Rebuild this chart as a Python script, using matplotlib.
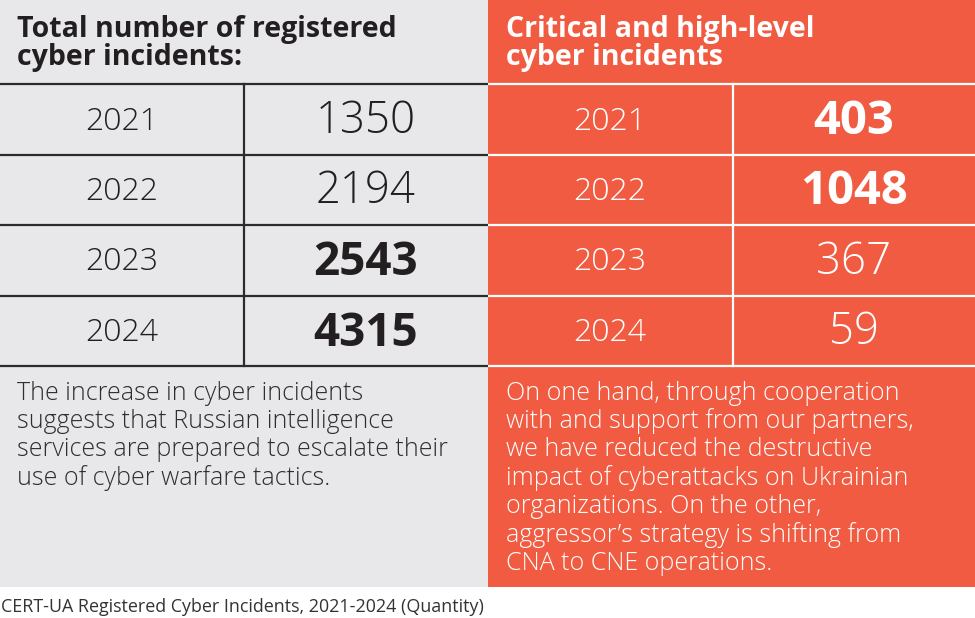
import matplotlib.pyplot as plt
from matplotlib.patches import Rectangle

# data
years = ["2021", "2022", "2023", "2024"]
total = [1350, 2194, 2543, 4315]
total_bold = [False, False, True, True]
critical = [403, 1048, 367, 59]
critical_bold = [True, True, False, False]

left_title = ["Total number of registered", "cyber incidents:"]
right_title = ["Critical and high-level", "cyber incidents"]
left_note = ["The increase in cyber incidents",
             "suggests that Russian intelligence",
             "services are prepared to escalate their",
             "use of cyber warfare tactics."]
right_note = ["On one hand, through cooperation",
              "with and support from our partners,",
              "we have reduced the destructive",
              "impact of cyberattacks on Ukrainian",
              "organizations. On the other,",
              "aggressor\u2019s strategy is shifting from",
              "CNA to CNE operations."]
caption = "CERT-UA Registered Cyber Incidents, 2021-2024 (Quantity)"

gray = "#e8e8ea"
orange = "#f05b41"
dark = "#231f20"
FONT = ["Open Sans", "DejaVu Sans"]

fig = plt.figure(figsize=(9.75, 6.18), dpi=100)
ax = fig.add_axes([0, 0, 1, 1])
ax.set_xlim(0, 975)
ax.set_ylim(618, 0)
ax.axis("off")

ax.add_patch(Rectangle((0, 0), 488, 587, color=gray, lw=0))
ax.add_patch(Rectangle((488, 0), 487, 587, color=orange, lw=0))

row_edges = [84, 155, 225, 296, 366]
row_mid = [(row_edges[i] + row_edges[i+1]) / 2 for i in range(4)]

# grid lines
for y in row_edges:
    ax.plot([0, 488], [y, y], color="#2b2b2b", lw=1.6, solid_capstyle="butt")
    ax.plot([488, 975], [y, y], color="white", lw=1.6, solid_capstyle="butt")
ax.plot([244, 244], [84, 366], color="#2b2b2b", lw=1.6)
ax.plot([733, 733], [84, 366], color="white", lw=1.6)

# titles
for i, s in enumerate(left_title):
    ax.text(17, 29 + i * 29, s, fontsize=20.5, fontweight="bold", color=dark,
            family=FONT, va="center", ha="left")
for i, s in enumerate(right_title):
    ax.text(506, 29 + i * 29, s, fontsize=20.5, fontweight="bold", color="white",
            family=FONT, va="center", ha="left")

# table cells
for i in range(4):
    y = row_mid[i] + 2
    ax.text(122, y, years[i], fontsize=23, fontweight="light", color=dark,
            family=FONT, ha="center", va="center")
    ax.text(366, y, str(total[i]),
            fontsize=33 if total_bold[i] else 31.5,
            fontweight="bold" if total_bold[i] else "light", color=dark,
            family=FONT, ha="center", va="center")
    ax.text(610, y, years[i], fontsize=23, fontweight="light", color="white",
            family=FONT, ha="center", va="center")
    ax.text(854, y, str(critical[i]),
            fontsize=34 if critical_bold[i] else 31.5,
            fontweight="bold" if critical_bold[i] else "light", color="white",
            family=FONT, ha="center", va="center")

# notes
for i, s in enumerate(left_note):
    ax.text(17, 393 + i * 28.4, s, fontsize=18, fontweight="light",
            color="#2e2e2e", family=FONT, ha="left", va="center")
for i, s in enumerate(right_note):
    ax.text(506, 393 + i * 28.4, s, fontsize=18, fontweight="light",
            color="white", family=FONT, ha="left", va="center")

ax.text(1, 607, caption, fontsize=12.9, color="#333333", family=FONT,
        ha="left", va="center")

fig.savefig("out.png", dpi=100)
